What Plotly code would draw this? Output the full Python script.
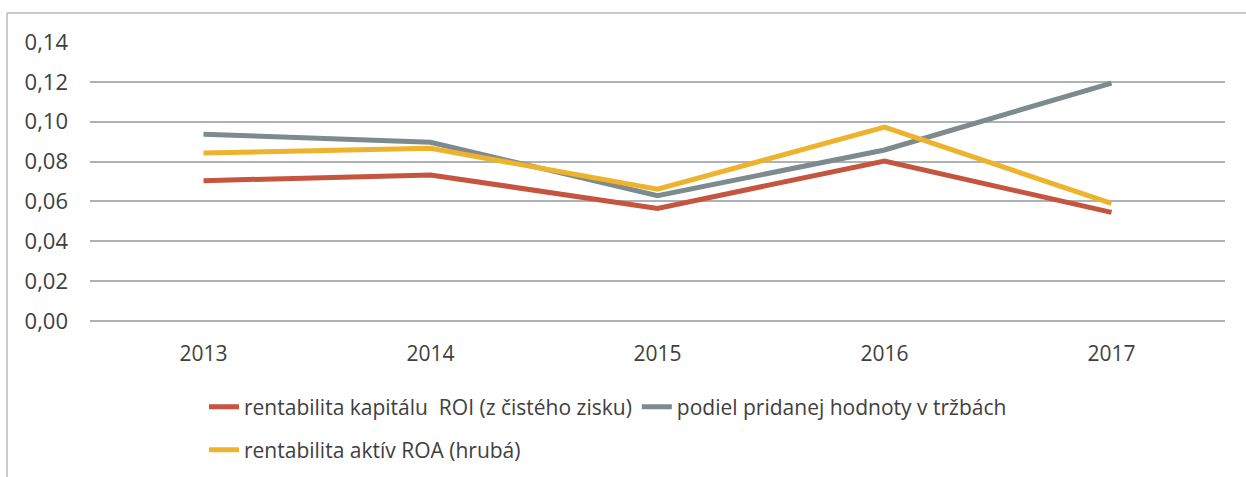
import plotly.graph_objects as go

years = ["2013", "2014", "2015", "2016", "2017"]
roi = [0.0704, 0.0733, 0.0565, 0.0803, 0.0545]
podiel = [0.0937, 0.0897, 0.0629, 0.0858, 0.1194]
roa = [0.0843, 0.0867, 0.0661, 0.0973, 0.0590]
y_ticks = [0.00, 0.02, 0.04, 0.06, 0.08, 0.10, 0.12, 0.14]

names = ["rentabilita kapitálu  ROI (z čistého zisku)",
         "podiel pridanej hodnoty v tržbách",
         "rentabilita aktív ROA (hrubá)"]
colors = ["#c5553e", "#7e8b8e", "#eeb32c"]

W, H = 1246, 477
L, R, T, B = 90, 1225, 42, 321

fig = go.Figure()
for vals, name, col, lg in zip([roi, podiel, roa], names, colors, ["legend", "legend", "legend2"]):
    fig.add_trace(go.Scatter(x=years, y=vals, name=name, mode="lines",
                             line=dict(color=col, width=5), legend=lg))

def px(x):
    return (x - L) / (R - L)

def py(y):
    return (B - y) / (B - T)

txt = "#404040"
font = "'Open Sans', 'Noto Sans', sans-serif"
fs = 21
fig.update_layout(
    width=W, height=H,
    margin=dict(l=L, r=W - R, t=T, b=H - B, autoexpand=False),
    paper_bgcolor="white", plot_bgcolor="white",
    separators=",.",
    font=dict(family=font, size=fs, color=txt),
    xaxis=dict(type="category", range=[-0.5, 4.5], showgrid=False, showline=False, ticks="",
               tickfont=dict(size=fs, color=txt), ticklabelstandoff=18, automargin=False),
    yaxis=dict(range=[0, 0.14], tickvals=y_ticks, tickformat=".2f",
               showgrid=True, gridcolor="#aeb2b4", gridwidth=1.5,
               zeroline=True, zerolinecolor="#aeb2b4", zerolinewidth=1.5,
               showline=False, ticks="", tickfont=dict(size=22, color=txt),
               ticklabelstandoff=21, automargin=False),
    legend=dict(orientation="h", x=px(204), y=py(407), xanchor="left", yanchor="middle",
                font=dict(size=fs, color=txt), bgcolor="rgba(0,0,0,0)",
                itemwidth=30, tracegroupgap=0),
    legend2=dict(orientation="h", x=px(204), y=py(450), xanchor="left", yanchor="middle",
                 font=dict(size=fs, color=txt), bgcolor="rgba(0,0,0,0)",
                 itemwidth=30),
    shapes=[
        dict(type="line", xref="paper", yref="paper", x0=px(7), x1=px(1246), y0=py(13), y1=py(13),
             line=dict(color="#b8b8b8", width=1.5)),
        dict(type="line", xref="paper", yref="paper", x0=px(7), x1=px(7), y0=py(13), y1=py(477),
             line=dict(color="#b8b8b8", width=1.5)),
    ],
)

fig.write_html("out.html", config={"displayModeBar": False},
               post_script="document.body.style.margin='0';document.body.style.overflow='hidden';")
